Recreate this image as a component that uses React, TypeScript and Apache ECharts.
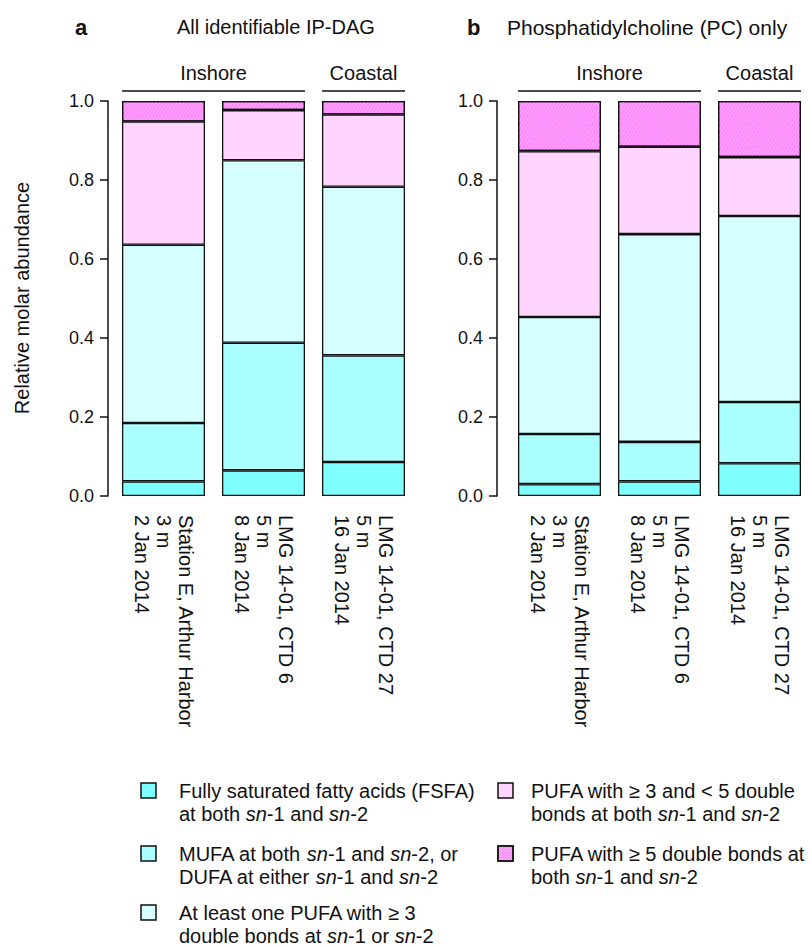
import React, { useEffect, useRef } from "react";
import * as echarts from "echarts";

const sites = [
  "Station E, Arthur Harbor\n3 m\n2 Jan 2014",
  "LMG 14-01, CTD 6\n5 m\n8 Jan 2014",
  "LMG 14-01, CTD 27\n5 m\n16 Jan 2014",
];
const groupNames = ["FSFA", "MUFA/DUFA", "PUFA one", "PUFA 3-5", "PUFA >=5"];
const colors = ["#80ffff", "#aaffff", "#d6ffff", "#ffd4ff", "#ff88ff"];

// Panel a: All identifiable IP-DAG (segment heights)
const aFSFA = [0.037, 0.065, 0.086];
const aMUFA = [0.148, 0.323, 0.27];
const aPUFAone = [0.451, 0.462, 0.427];
const aPUFA35 = [0.312, 0.127, 0.183];
const aPUFA5 = [0.052, 0.023, 0.034];

// Panel b: PC only
const bFSFA = [0.03, 0.037, 0.083];
const bMUFA = [0.127, 0.1, 0.155];
const bPUFAone = [0.296, 0.526, 0.471];
const bPUFA35 = [0.42, 0.221, 0.149];
const bPUFA5 = [0.127, 0.116, 0.142];

const yTicks = [0, 0.2, 0.4, 0.6, 0.8, 1.0];

const FONT = "Liberation Sans, Arial, Helvetica, sans-serif";
const FS = 20;

export default function App() {
  const ref = useRef<HTMLDivElement>(null);
  useEffect(() => {
    document.body.style.margin = "0";
    const chart = echarts.init(ref.current!, null, { renderer: "svg" });

    const decal5 = {
      symbol: "rect",
      symbolSize: 1,
      color: "rgba(255,255,255,0.3)",
      dashArrayX: [1, 0],
      dashArrayY: [1, 2],
      rotation: -Math.PI / 3,
    };

    const panelA = [aFSFA, aMUFA, aPUFAone, aPUFA35, aPUFA5];
    const panelB = [bFSFA, bMUFA, bPUFAone, bPUFA35, bPUFA5];

    const mkSeries = (data: number[][], idx: number) =>
      data.map((d, i) => ({
        name: groupNames[i],
        type: "bar",
        stack: "s" + idx,
        xAxisIndex: idx,
        yAxisIndex: idx,
        barWidth: 83,
        data: d,
        itemStyle: {
          color: colors[i],
          borderColor: "#111",
          borderWidth: 1.3,
          decal: i === 4 ? decal5 : undefined,
        },
      }));

    const mkX = (idx: number) => ({
      type: "category",
      gridIndex: idx,
      data: sites,
      axisLine: { show: false },
      axisTick: { show: false },
      axisLabel: {
        rotate: -90,
        fontSize: FS,
        lineHeight: 22,
        color: "#111",
        fontFamily: FONT,
        margin: 19,
        interval: 0,
        padding: [6, 0, 0, 0],
      },
    });
    const mkY = (idx: number, offset: number) => ({
      type: "value",
      gridIndex: idx,
      min: yTicks[0],
      max: yTicks[yTicks.length - 1],
      interval: 0.2,
      offset,
      splitLine: { show: false },
      axisLine: { show: true, lineStyle: { color: "#111", width: 1.5 } },
      axisTick: { show: true, length: 8, lineStyle: { color: "#111", width: 1.5 } },
      axisLabel: {
        fontSize: 18,
        color: "#111",
        fontFamily: FONT,
        margin: 14,
        formatter: (v: number) => v.toFixed(1),
      },
    });

    const txt = (x: number, y: number, text: string, extra: any = {}) => ({
      type: "text",
      x,
      y,
      style: {
        text,
        fontSize: FS,
        fontFamily: FONT,
        fill: "#111",
        textAlign: "left",
        textVerticalAlign: "middle",
        ...extra,
      },
    });
    const rich = {
      i: { fontStyle: "italic", fontSize: FS, fontFamily: FONT, fill: "#111" },
      n: { fontSize: FS, fontFamily: FONT, fill: "#111" },
    };
    const line = (x1: number, x2: number, y: number) => ({
      type: "line",
      shape: { x1, y1: y, x2, y2: y },
      style: { stroke: "#111", lineWidth: 1.3 },
    });
    const swatch = (x: number, y: number, color: string) => ({
      type: "rect",
      shape: { x, y, width: 15, height: 15 },
      style: { fill: color, stroke: "#111", lineWidth: 1.5 },
    });
    const hatch = (x: number, y: number) => {
      const out: any[] = [];
      const s = 15;
      for (let c = -12; c <= 12; c += 3) {
        let u1, v1, u2, v2;
        if (c >= 0) {
          u1 = c; v1 = 0; u2 = s; v2 = s - c;
        } else {
          u1 = 0; v1 = -c; u2 = s + c; v2 = s;
        }
        out.push({
          type: "line",
          shape: { x1: x + u1, y1: y + s - v1, x2: x + u2, y2: y + s - v2 },
          style: { stroke: "rgba(255,255,255,0.5)", lineWidth: 1 },
        });
      }
      out.push({
        type: "rect",
        shape: { x, y, width: s, height: s },
        style: { fill: "none", stroke: "#111", lineWidth: 1.5 },
      });
      return out;
    };

    const graphics: any[] = [
      txt(75, 27, "a", { fontWeight: "bold", fontSize: 22 }),
      txt(177, 27, "All identifiable IP-DAG", { fontSize: 20 }),
      txt(467, 27, "b", { fontWeight: "bold", fontSize: 22 }),
      txt(507, 27, "Phosphatidylcholine (PC) only", { fontSize: 21 }),
      txt(213.5, 73, "Inshore", { textAlign: "center" }),
      txt(363.5, 73, "Coastal", { textAlign: "center" }),
      line(122, 305, 91),
      line(322, 405, 91),
      txt(609.5, 73, "Inshore", { textAlign: "center" }),
      txt(759.5, 73, "Coastal", { textAlign: "center" }),
      line(518, 701, 91),
      line(718, 801, 91),
      {
        type: "text",
        x: 22,
        y: 298,
        rotation: Math.PI / 2,
        style: {
          text: "Relative molar abundance",
          fontSize: 20,
          fontFamily: FONT,
          fill: "#111",
          textAlign: "center",
          textVerticalAlign: "middle",
        },
      },
      // legend left column
      swatch(141, 783, colors[0]),
      txt(179, 791, "Fully saturated fatty acids (FSFA)"),
      txt(179, 814, "{n|at both }{i|sn}{n|-1 and }{i|sn}{n|-2}", { rich }),
      swatch(141, 846, colors[1]),
      txt(179, 854, "{n|MUFA at both }{i|sn}{n|-1 and }{i|sn}{n|-2, or}", { rich }),
      txt(179, 877, "{n|DUFA at either }{i|sn}{n|-1 and }{i|sn}{n|-2}", { rich }),
      swatch(141, 905, colors[2]),
      txt(179, 913, "At least one PUFA with ≥ 3"),
      txt(179, 936, "{n|double bonds at }{i|sn}{n|-1 or }{i|sn}{n|-2}", { rich }),
      // legend right column
      swatch(498, 783, colors[3]),
      txt(531, 791, "PUFA with ≥ 3 and < 5 double"),
      txt(531, 814, "{n|bonds at both }{i|sn}{n|-1 and }{i|sn}{n|-2}", { rich }),
      swatch(498, 846, colors[4]),
      ...hatch(498, 846),
      txt(531, 854, "PUFA with ≥ 5 double bonds at"),
      txt(531, 877, "{n|both }{i|sn}{n|-1 and }{i|sn}{n|-2}", { rich }),
    ];

    chart.setOption({
      animation: false,
      backgroundColor: "#fff",
      textStyle: { fontFamily: FONT },
      grid: [
        { left: 113.5, width: 300, top: 101, bottom: 451 },
        { left: 509.5, width: 300, top: 101, bottom: 451 },
      ],
      xAxis: [mkX(0), mkX(1)],
      yAxis: [mkY(0, 5.5), mkY(1, 12.5)],
      series: [...mkSeries(panelA, 0), ...mkSeries(panelB, 1)],
      graphic: graphics,
    });
    return () => chart.dispose();
  }, []);
  return <div ref={ref} style={{ width: 812, height: 947 }} />;
}
